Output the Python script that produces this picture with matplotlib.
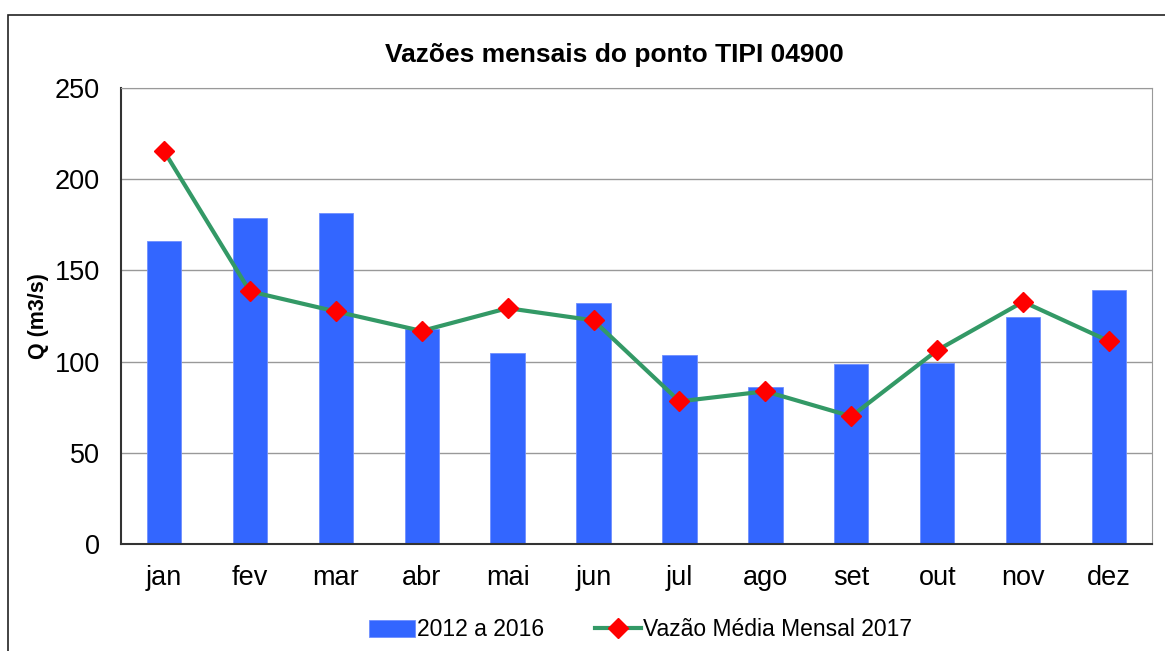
import matplotlib.pyplot as plt
from matplotlib.patches import Rectangle

plt.rcParams["font.family"] = ["Liberation Sans", "DejaVu Sans"]

meses = ["jan", "fev", "mar", "abr", "mai", "jun", "jul", "ago", "set", "out", "nov", "dez"]
vazao_2012_2016 = [166, 178.5, 181.5, 118, 104.5, 132, 103.5, 86, 98.5, 99.5, 124.5, 139.5]
vazao_2017 = [215.5, 138.5, 127.5, 116.8, 129.3, 122.6, 78.2, 83.7, 70.0, 106.2, 132.8, 111.2]

fig = plt.figure(figsize=(11.65, 6.51), dpi=100)
fig.patches.append(Rectangle((8 / 1165, -0.1), 1.2, 1 - 15 / 651 + 0.1,
                             transform=fig.transFigure, fill=False,
                             edgecolor="#222222", linewidth=1.2))

ax = fig.add_axes([121 / 1165, 1 - 544 / 651, (1152 - 121) / 1165, (544 - 88) / 651])
x = range(len(meses))
ax.bar(x, vazao_2012_2016, width=0.4, color="#3366FF", edgecolor="#6f8fff",
       linewidth=0.6, label="2012 a 2016", zorder=2)
ax.plot(x, vazao_2017, color="#339966", linewidth=3, marker="D", markersize=10,
        markerfacecolor="red", markeredgecolor="red", label="Vazão Média Mensal 2017",
        zorder=3)

ax.set_xlim(-0.5, 11.5)
ax.set_ylim(0, 250)
ax.set_yticks(range(0, 251, 50))
ax.set_xticks(list(x))
ax.set_xticklabels(meses)
ax.tick_params(axis="both", labelsize=19.5, length=0)
ax.tick_params(axis="y", pad=15)
ax.tick_params(axis="x", pad=15)
ax.yaxis.grid(True, color="#999999", linewidth=1, zorder=0)
ax.set_axisbelow(True)
for side in ["top", "right"]:
    ax.spines[side].set_color("#999999")
for side in ["left", "bottom"]:
    ax.spines[side].set_color("#333333")
    ax.spines[side].set_linewidth(1.5)

ax.set_ylabel("Q (m3/s)", fontsize=15.5, fontweight="bold", labelpad=4)
fig.text(0.527, 1 - 55 / 651, "Vazões mensais do ponto TIPI 04900",
         ha="center", va="center", fontsize=19, fontweight="bold")

handles, labels = ax.get_legend_handles_labels()
fig.legend(handles[::-1], labels[::-1], loc="center", bbox_to_anchor=(0.55, 1 - 630 / 651),
           ncol=2, frameon=False, fontsize=16.5, handlelength=2.0,
           columnspacing=2.2, handletextpad=0.1)

fig.savefig("out.png", dpi=100)
